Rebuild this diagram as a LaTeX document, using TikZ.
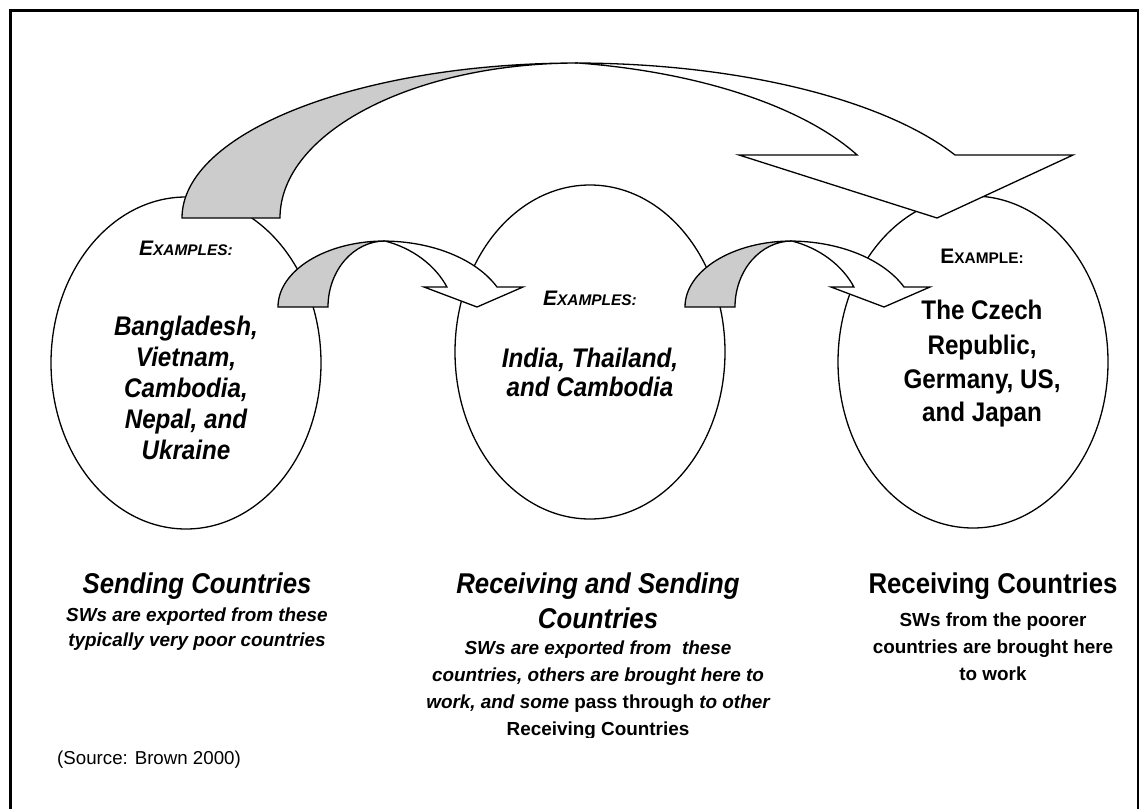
\documentclass[tikz,border=0pt]{standalone}
\usepackage{fontspec}
\setmainfont{Liberation Sans}
\newfontfamily\tallf[FakeStretch=0.9]{Liberation Sans}
\definecolor{backface}{HTML}{CCCCCC}
\newcommand{\scword}[2]{{\fontsize{21}{21}\selectfont #1}{\fontsize{15.4}{15.4}\selectfont #2}}
\tikzset{
  oval/.style={draw=black, line width=1.3pt, fill=white},
  arrowline/.style={draw=black, line width=1.3pt, line join=miter},
  txt/.style={anchor=base, inner sep=0pt},
  extag/.style={txt, font=\bfseries},
  ctry/.style={txt, font=\tallf\fontsize{26.9}{30}\selectfont\bfseries},
  head/.style={txt, font=\tallf\fontsize{28.6}{33}\selectfont\bfseries},
  body/.style={txt, font=\fontsize{18.9}{27}\selectfont\bfseries}
}
\begin{document}
\begin{tikzpicture}[x=1pt,y=1pt]
\useasboundingbox (0,0) rectangle (1139,-808);
\fill[white] (0,0) rectangle (1139,-808);
\draw[line width=3pt] (10.5,-10.5) rectangle (1138,-830);

% ellipses
\draw[oval] (186,-363) ellipse [x radius=135, y radius=166];
\draw[oval] (590,-352) ellipse [x radius=135, y radius=167];
\draw[oval] (973,-362) ellipse [x radius=135, y radius=166];

% big curved arrow
\draw[arrowline, fill=backface] (182,-218)
  arc[start angle=180, end angle=90, x radius=396, y radius=155]
  arc[start angle=90, end angle=180, x radius=298, y radius=155] -- cycle;
\draw[arrowline, fill=white] (578,-63)
  arc[start angle=80.4, end angle=26.4, x radius=383, y radius=170]
  -- (739,-155) -- (937,-218) -- (1073,-155) -- (955,-155)
  arc[start angle=26.7, end angle=90, x radius=425.5, y radius=167] -- cycle;

% small curved arrows
\foreach \dx in {0,407}{
  \begin{scope}[xshift=\dx pt]
    \draw[arrowline, fill=backface] (278,-307)
      arc[start angle=180, end angle=90, x radius=107, y radius=66]
      arc[start angle=90, end angle=180, x radius=57, y radius=66] -- cycle;
    \draw[arrowline, fill=white] (385,-241)
      arc[start angle=72.7, end angle=24.4, x radius=101, y radius=85]
      -- (424,-287) -- (477,-307) -- (523,-287) -- (497,-287)
      arc[start angle=25.2, end angle=90, x radius=126, y radius=80] -- cycle;
  \end{scope}
}

% left ellipse text
\node[extag] (exL) at (186,-255.5) {\itshape\scword{E}{XAMPLES:}};
\node[ctry] (l1) at (186,-335.5) {\itshape Bangladesh,};
\node[ctry] (l2) at (186,-366.5) {\itshape Vietnam,};
\node[ctry] (l3) at (186,-397.5) {\itshape Cambodia,};
\node[ctry] (l4) at (186,-428.5) {\itshape Nepal, and};
\node[ctry] (l5) at (186,-459) {\itshape Ukraine};

% middle ellipse text
\node[extag] (exM) at (590,-305.5) {\itshape\scword{E}{XAMPLES:}};
\node[ctry] (m1) at (590,-367.5) {\itshape India, Thailand,};
\node[ctry] (m2) at (590,-396.5) {\itshape and Cambodia};

% right ellipse text
\node[extag] (exR) at (982,-263) {\scword{E}{XAMPLE:}};
\node[ctry] (r1) at (982,-319.5) {The Czech};
\node[ctry] (r2) at (982,-354.5) {Republic,};
\node[ctry] (r3) at (982,-388.5) {Germany, US,};
\node[ctry] (r4) at (982,-421) {and Japan};

% captions
\node[head] (hL) at (197,-593) {\itshape Sending Countries};
\node[body] (bL1) at (197,-621) {\itshape SWs are exported from these};
\node[body] (bL2) at (197,-646) {\itshape typically very poor countries};

\node[head] (hM1) at (598,-593) {\itshape Receiving and Sending};
\node[head] (hM2) at (598,-628) {\itshape Countries};
\node[body] (bM1) at (598,-654) {\itshape SWs are exported from\ \ these};
\node[body] (bM2) at (598,-681.5) {\itshape countries, others are brought here to};
\node[body] (bM3) at (598,-708.5) {{\itshape work, and some} pass through {\itshape to other}};
\begin{scope}
  \clip (380,-715) rectangle (820,-737.5);
  \node[body] (bM4) at (598,-735) {Receiving Countries};
\end{scope}

\node[head] (hR) at (993,-593) {Receiving Countries};
\node[body] (bR1) at (993,-626) {SWs from the poorer};
\node[body] (bR2) at (993,-653) {countries are brought here};
\node[body] (bR3) at (993,-680) {to work};

\node[txt, anchor=base west, font=\fontsize{18.7}{22}\selectfont] (src) at (57,-764) {(Source: Brown 2000)};
\end{tikzpicture}
\end{document}
